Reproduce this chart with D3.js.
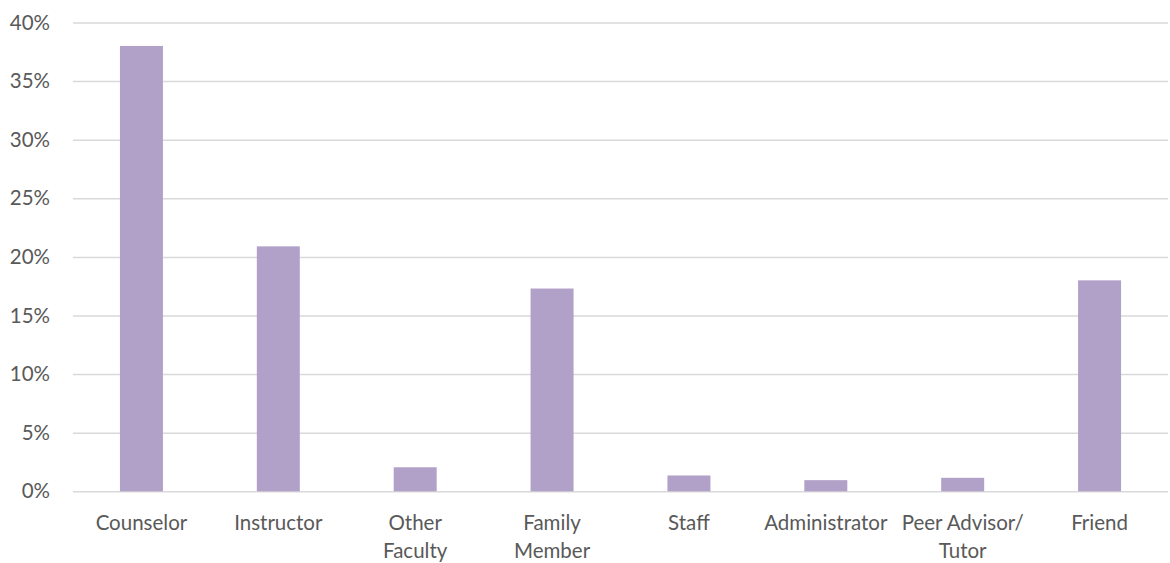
<!DOCTYPE html>
<html><head><meta charset="utf-8">
<script src="https://cdn.jsdelivr.net/npm/d3@7"></script>
<style>body{margin:0;background:#fff}svg{display:block}</style>
</head><body><svg id="c" width="1170" height="563"></svg>
<script>
const categories = [["Counselor"],["Instructor"],["Other","Faculty"],["Family","Member"],["Staff"],["Administrator"],["Peer Advisor/","Tutor"],["Friend"]];
const values = [38.0, 20.9, 2.05, 17.3, 1.35, 0.95, 1.15, 18.0];
const yTicks = [0,5,10,15,20,25,30,35,40];

const svg = d3.select("#c");
const m = {l:73, r:1168, t:22.5, b:491.3};
const keys = categories.map(c=>c.join(" "));
const x = d3.scaleBand().domain(keys).range([m.l,m.r]).paddingInner(0.686).paddingOuter(0.343);
const y = d3.scaleLinear().domain([0,40]).range([m.b,m.t]);
const font = "Lato, 'Open Sans', sans-serif";
const fs = "20.5px";

const ya = svg.append("g").attr("transform",`translate(${m.l},0)`)
  .call(d3.axisLeft(y).tickValues(yTicks).tickFormat(d=>d+"%").tickSize(-(m.r-m.l)).tickPadding(23));
ya.select(".domain").remove();
ya.selectAll(".tick line").attr("stroke","#d9d9d9").attr("stroke-width",1.5);
ya.selectAll(".tick text").attr("fill","#595959").style("font-family",font).style("font-size",fs);

svg.append("g").selectAll("rect").data(values).join("rect")
  .attr("x",(d,i)=>x(keys[i])).attr("width",x.bandwidth())
  .attr("y",d=>y(d)).attr("height",d=>y(0)-y(d))
  .attr("fill","#b1a0c7");

const xa = svg.append("g");
categories.forEach((lines,i)=>{
  const t = xa.append("text").attr("x",x(keys[i])+x.bandwidth()/2).attr("y",530)
    .attr("text-anchor","middle").attr("fill","#595959")
    .style("font-family",font).style("font-size",fs);
  lines.forEach((ln,j)=>t.append("tspan").attr("x",x(keys[i])+x.bandwidth()/2).attr("dy",j?28:0).text(ln));
});
</script></body></html>
